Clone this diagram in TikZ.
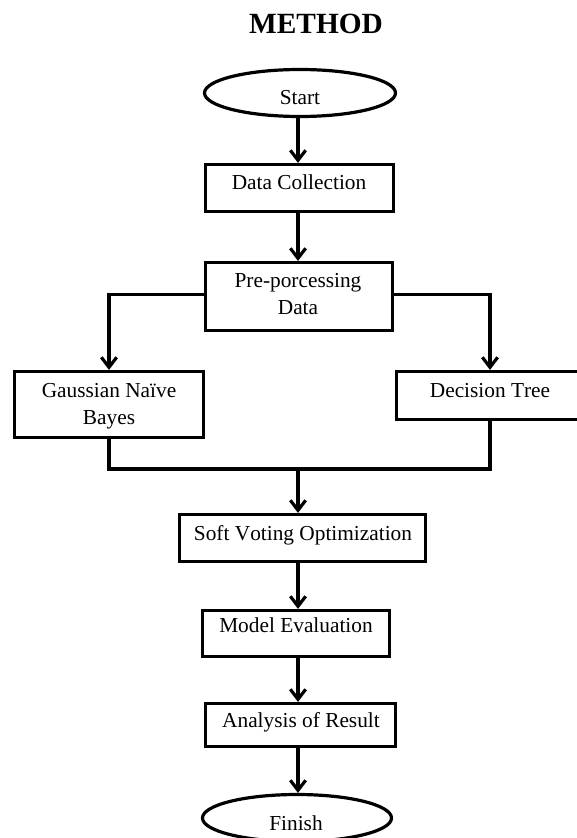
\documentclass[tikz,border=0pt]{standalone}
\usepackage{fontspec}
\setmainfont{Liberation Serif}[Kerning=Off]
\usetikzlibrary{arrows.meta,calc,shapes.geometric}
\begin{document}
\begin{tikzpicture}[x=0.75pt,y=-0.75pt,
  stepbox/.style={rectangle, draw=black, line width=2.4pt, inner sep=0pt},
  term/.style={ellipse, draw=black, line width=2.4pt, inner sep=0pt},
  lbl/.style={font=\fontsize{16}{19}\selectfont, anchor=base, inner sep=0pt},
  arr/.style={line width=2.4pt, -{Straight Barb[length=7.5pt,width=11.5pt]}},
  link/.style={line width=2.4pt}]
\clip (0,0) rectangle (577,838);
\fill[white] (0,0) rectangle (577,838);

% heading
\node[font=\fontsize{22}{26}\selectfont\bfseries, anchor=base, inner sep=0pt] (title) at (316,34) {METHOD};

% frames of the steps
\node[term, minimum width=191*0.75pt, minimum height=47*0.75pt] (start) at (300,93) {};
\node[stepbox, minimum width=188*0.75pt, minimum height=47*0.75pt] (dc) at (299.5,188) {};
\node[stepbox, minimum width=187*0.75pt, minimum height=68*0.75pt] (pre) at (299,296.5) {};
\node[stepbox, minimum width=189*0.75pt, minimum height=66*0.75pt] (gnb) at (109,404.5) {};
\node[stepbox, minimum width=187*0.75pt, minimum height=48*0.75pt] (dt) at (490,395.5) {};
\node[stepbox, minimum width=246*0.75pt, minimum height=47*0.75pt] (sv) at (302.5,538) {};
\node[stepbox, minimum width=187*0.75pt, minimum height=46*0.75pt] (me) at (296,633.5) {};
\node[stepbox, minimum width=190*0.75pt, minimum height=43*0.75pt] (ar) at (300.5,725) {};
\node[term, minimum width=189*0.75pt, minimum height=47*0.75pt] (fin) at (297,818) {};

% captions, set near the top of each frame
\node[lbl] (start-t) at (300,105) {Start};
\node[lbl] (dc-t) at (299,190) {Data Collection};
\node[lbl] (pre-t1) at (298,287) {Pre-porcessing};
\node[lbl] (pre-t2) at (298,314) {Data};
\node[lbl] (gnb-t1) at (109,397) {Gaussian Naïve};
\node[lbl] (gnb-t2) at (109,424) {Bayes};
\node[lbl] (dt-t) at (490,397) {Decision Tree};
\node[lbl] (sv-t) at (303,540) {Soft Voting Optimization};
\node[lbl] (me-t) at (296,632) {Model Evaluation};
\node[lbl] (ar-t) at (301,727) {Analysis of Result};
\node[lbl] (fin-t) at (296,830) {Finish};

% main spine and the join point under the two classifiers
\coordinate (spine) at (298,0);
\coordinate (merge) at (298,469);

\draw[arr] (start.south -| spine) -- (dc.north -| spine);
\draw[arr] (dc.south -| spine) -- (pre.north -| spine);
\draw[arr] ([yshift=1.8pt]pre.west) -| (gnb.north);
\draw[arr] ([yshift=1.8pt]pre.east) -| (dt.north);
\draw[link] (gnb.south) |- (merge) -| (dt.south);
\draw[arr] (merge) -- (sv.north -| spine);
\draw[arr] (sv.south -| spine) -- (me.north -| spine);
\draw[arr] (me.south -| spine) -- (ar.north -| spine);
\draw[arr] (ar.south -| spine) -- (fin.north -| spine);
\end{tikzpicture}
\end{document}
